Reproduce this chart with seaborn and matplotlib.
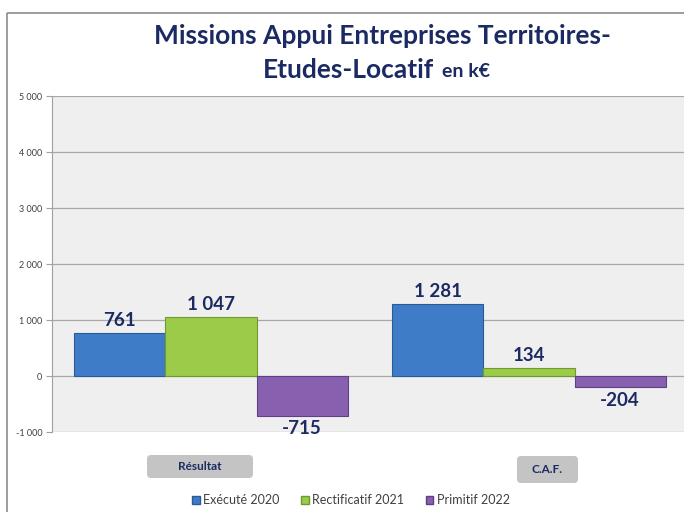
"""
plot.py - Missions Appui Entreprises Territoires-Etudes-Locatif (k€), grouped bars.
"""

import matplotlib
matplotlib.use('Agg')
import matplotlib.pyplot as plt
import pandas as pd
import seaborn as sns
from matplotlib.patches import Rectangle, FancyBboxPatch

# ─────────────────────────────────────────────
# Data
# ─────────────────────────────────────────────
categories = ['Résultat', 'C.A.F.']
series = ['Exécuté 2020', 'Rectificatif 2021', 'Primitif 2022']
execute_2020 = [761, 1281]
rectificatif_2021 = [1047, 134]
primitif_2022 = [-715, -204]
y_ticks = [-1000, 0, 1000, 2000, 3000, 4000, 5000]

colors = ['#3f7cc8', '#9ccb4a', '#8860b0']
edge_colors = ['#2c5a94', '#6f9a2c', '#5f3f85']
navy = '#1b2a62'

df = pd.DataFrame({
    'categorie': categories * 3,
    'serie': [s for s in series for _ in categories],
    'valeur': execute_2020 + rectificatif_2021 + primitif_2022,
})


def fmt(v):
    return f'{v:,}'.replace(',', ' ')


sns.set_style('white')
plt.rcParams['font.family'] = ['Lato', 'DejaVu Sans']

W, H = 684, 512
fig = plt.figure(figsize=(W / 100, H / 100), dpi=100)

# overlay axes in pixel units for frame, boxes and title
bg = fig.add_axes([0, 0, 1, 1], zorder=0)
bg.set_xlim(0, W)
bg.set_ylim(H, 0)
bg.axis('off')
bg.add_patch(Rectangle((7, 13), W, H, fill=False, edgecolor='#8c8c8c', linewidth=1.2))

ax = fig.add_axes([52 / W, 1 - 432 / H, 636 / W, 336 / H], zorder=1)
ax.set_facecolor('#efefef')

sns.barplot(data=df, x='categorie', y='valeur', hue='serie', order=categories,
            hue_order=series, palette=colors, width=0.86, gap=0,
            saturation=1, ax=ax, legend=False)

for cont, ec in zip(ax.containers, edge_colors):
    for bar in cont:
        bar.set_edgecolor(ec)
        bar.set_linewidth(0.8)
    ax.bar_label(cont, labels=[fmt(int(v)) for v in cont.datavalues],
                 padding=3, fontsize=13.5, fontweight='bold', color=navy)

ax.set_ylim(-1000, 5000)
ax.set_yticks(y_ticks)
ax.set_yticklabels([fmt(t) for t in y_ticks], fontsize=6.5, color='#404040')
ax.yaxis.grid(True, color='#a8a8a8', linewidth=0.9)
ax.set_axisbelow(True)
ax.tick_params(axis='y', left=True, length=4, color='#a0a0a0', pad=3)
ax.tick_params(axis='x', bottom=False, labelbottom=False)
ax.set_xlabel('')
ax.set_ylabel('')
for side in ['top', 'right', 'bottom']:
    ax.spines[side].set_visible(False)
ax.spines['left'].set_color('#a0a0a0')

# category labels in grey rounded boxes
for label, (x0, y0, x1, y1) in zip(categories, [(147, 455, 253, 478), (517, 456, 578, 483)]):
    bg.add_patch(FancyBboxPatch((x0, y0), x1 - x0, y1 - y0,
                                boxstyle='round,pad=0,rounding_size=4',
                                fc='#c4c4c4', ec='none'))
    bg.text((x0 + x1) / 2, (y0 + y1) / 2, label, ha='center', va='center',
            fontsize=8.5, fontweight='bold', color=navy)

# title
bg.text(382, 44, 'Missions Appui Entreprises Territoires-', ha='center',
        va='baseline', fontsize=19, fontweight='bold', color=navy)
bg.text(434, 78, 'Etudes-Locatif', ha='right', va='baseline',
        fontsize=19, fontweight='bold', color=navy)
bg.text(442, 77, 'en k€', ha='left', va='baseline',
        fontsize=14, fontweight='bold', color=navy)

# legend
handles = [Rectangle((0, 0), 1, 1, fc=c, ec=e) for c, e in zip(colors, edge_colors)]
fig.legend(handles, series, loc='center', bbox_to_anchor=(351 / W, 1 - 500 / H),
           ncol=3, frameon=False, fontsize=9, handlelength=0.6, handleheight=0.6,
           handletextpad=0.3, columnspacing=1.7, labelcolor='#404040')

fig.savefig('out.png', dpi=100)
plt.close(fig)
